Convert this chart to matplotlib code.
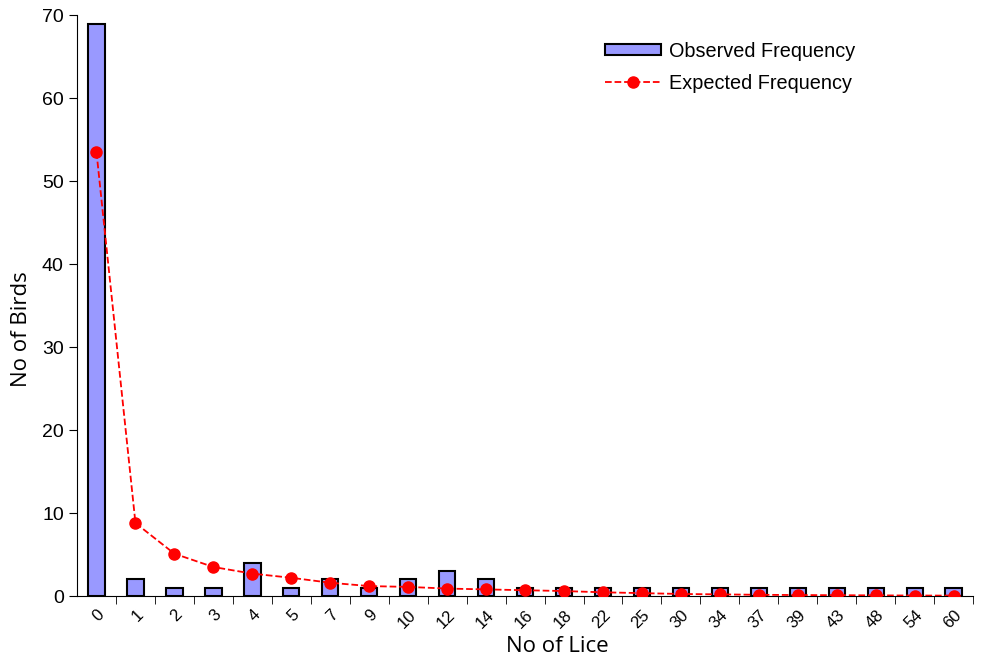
import numpy as np
import matplotlib.pyplot as plt

lice = ["0", "1", "2", "3", "4", "5", "7", "9", "10", "12", "14", "16",
        "18", "22", "25", "30", "34", "37", "39", "43", "48", "54", "60"]
observed = [69, 2, 1, 1, 4, 1, 2, 1, 2, 3, 2, 1, 1, 1, 1, 1, 1, 1, 1, 1, 1, 1, 1]
expected = [53.5, 8.8, 5.1, 3.5, 2.7, 2.2, 1.6, 1.2, 1.1, 0.9, 0.8, 0.7,
            0.6, 0.45, 0.35, 0.25, 0.2, 0.15, 0.12, 0.1, 0.08, 0.06, 0.05]

fig = plt.figure(figsize=(9.81, 6.63), dpi=100)
ax = fig.add_axes([0.0785, 0.101, 0.9135, 0.876])

x = np.arange(len(lice))
bars = ax.bar(x, observed, width=0.42, color="#9999FF", edgecolor="black",
              linewidth=1.5, label="Observed Frequency", zorder=2)
line, = ax.plot(x, expected, color="red", linestyle="--", linewidth=1.3,
                marker="o", markersize=8, label="Expected Frequency", zorder=3)

ax.set_xlim(-0.5, len(lice) - 0.5)
ax.set_ylim(0, 70)
ax.set_yticks(range(0, 71, 10))
ax.set_xticks(x)
ax.set_xticklabels(lice, rotation=45, fontsize=12, family="Liberation Sans",
                   ha="right", rotation_mode="anchor")
ax.tick_params(axis="x", which="major", length=0, pad=8)
ax.set_xticks(np.arange(0.5, len(lice), 1.0), minor=True)
ax.tick_params(axis="x", which="minor", length=6, direction="out", color="black")
ax.tick_params(axis="y", labelsize=14, length=6, direction="out")
for lbl in ax.get_yticklabels():
    lbl.set_family("Liberation Sans")

ax.spines["top"].set_visible(False)
ax.spines["right"].set_visible(False)

ax.set_xlabel("No of Lice", fontsize=16, family="Open Sans")
ax.set_ylabel("No of Birds", fontsize=16, family="Open Sans")
ax.xaxis.set_label_coords(0.536, -0.068)
ax.yaxis.set_label_coords(-0.05, 0.46)

ax.legend(handles=[bars, line], loc="upper right", bbox_to_anchor=(0.888, 0.985),
          frameon=False, prop={"family": "Liberation Sans", "size": 14.3},
          handlelength=2.8, handleheight=0.5, handletextpad=0.4,
          labelspacing=0.65)

fig.savefig("out.png", dpi=100)
